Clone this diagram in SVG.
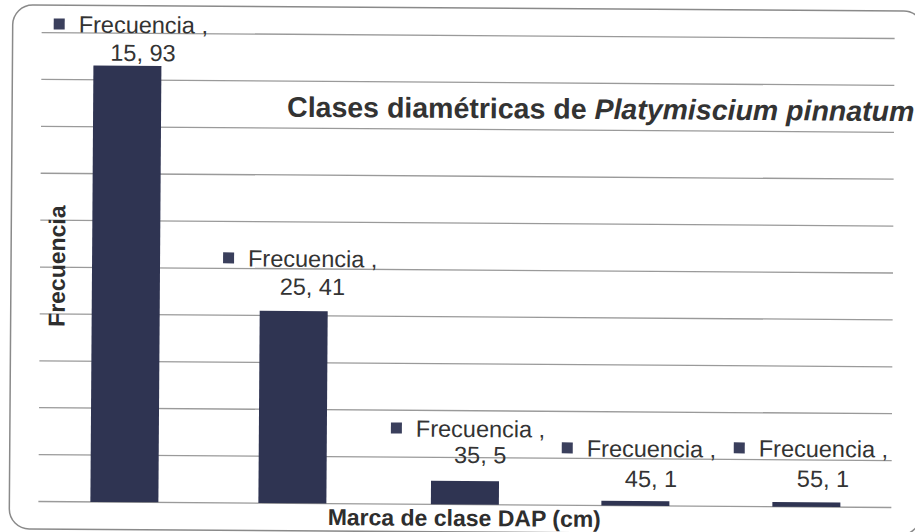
<svg xmlns="http://www.w3.org/2000/svg" width="915" height="532" viewBox="0 0 915 532">
<style>
.grid{stroke:#9a9a9a;stroke-width:1.3;fill:none}
.bar{fill:#2f3452}
.mk{fill:#3a3f5c}
.lbl{font-family:"Liberation Sans",Arial,sans-serif;font-size:23.5px;fill:#333333}
.ax{font-family:"Liberation Sans",Arial,sans-serif;font-size:23px;font-weight:bold;fill:#2e2e2e}
.title{font-family:"Liberation Sans",Arial,sans-serif;font-size:28.5px;font-weight:bold;fill:#333333}
</style>
<rect width="915" height="532" fill="#ffffff"/>
<g transform="rotate(0.4 466 270)">
<rect id="frame" x="11" y="8" width="911" height="524" rx="20" ry="20" fill="none" stroke="#8a8a8a" stroke-width="1.5"/>
<g id="gridlines">
<line class="grid" x1="40" y1="35.5" x2="893" y2="35.5"/>
<line class="grid" x1="40" y1="82.4" x2="893" y2="82.4"/>
<line class="grid" x1="40" y1="129.3" x2="893" y2="129.3"/>
<line class="grid" x1="40" y1="176.2" x2="893" y2="176.2"/>
<line class="grid" x1="40" y1="223.1" x2="893" y2="223.1"/>
<line class="grid" x1="40" y1="270" x2="893" y2="270"/>
<line class="grid" x1="40" y1="316.9" x2="893" y2="316.9"/>
<line class="grid" x1="40" y1="363.8" x2="893" y2="363.8"/>
<line class="grid" x1="40" y1="410.7" x2="893" y2="410.7"/>
<line class="grid" x1="40" y1="457.6" x2="893" y2="457.6"/>
<line class="grid" x1="40" y1="504.5" x2="893" y2="504.5"/>
</g>
<g id="bar-15">
<rect class="bar" x="92" y="68.2" width="68" height="436.3"/>
<rect class="mk" x="52" y="21.3" width="11" height="11"/>
<text class="lbl" x="77" y="35.3">Frecuencia ,</text>
<text class="lbl" x="141.5" y="63.3" text-anchor="middle">15, 93</text>
</g>
<g id="bar-25">
<rect class="bar" x="260" y="312.2" width="68" height="192.3"/>
<rect class="mk" x="223" y="254" width="11" height="11"/>
<text class="lbl" x="248" y="268">Frecuencia ,</text>
<text class="lbl" x="312.5" y="296" text-anchor="middle">25, 41</text>
</g>
<g id="bar-35">
<rect class="bar" x="432.5" y="481.05" width="68" height="23.45"/>
<rect class="mk" x="392" y="423" width="11" height="11"/>
<text class="lbl" x="417" y="437">Frecuencia ,</text>
<text class="lbl" x="481.5" y="463" text-anchor="middle">35, 5</text>
</g>
<g id="bar-45">
<rect class="bar" x="603" y="499.8" width="68" height="4.7"/>
<rect class="mk" x="563" y="441.7" width="11" height="11"/>
<text class="lbl" x="588" y="455.7">Frecuencia ,</text>
<text class="lbl" x="652.5" y="485.7" text-anchor="middle">45, 1</text>
</g>
<g id="bar-55">
<rect class="bar" x="774" y="499.8" width="68" height="4.7"/>
<rect class="mk" x="735" y="440.5" width="11" height="11"/>
<text class="lbl" x="760" y="454.5">Frecuencia ,</text>
<text class="lbl" x="824.5" y="484.5" text-anchor="middle">55, 1</text>
</g>
<g id="title">
<text class="title" x="286" y="118">Clases diamétricas de <tspan font-style="italic">Platymiscium pinnatum</tspan></text>
</g>
<g id="axis-titles">
<text class="ax" x="0" y="0" text-anchor="middle" transform="translate(65 269) rotate(-90)">Frecuencia</text>
<text class="ax" x="466" y="526" text-anchor="middle">Marca de clase DAP (cm)</text>
</g>
</g>
</svg>
